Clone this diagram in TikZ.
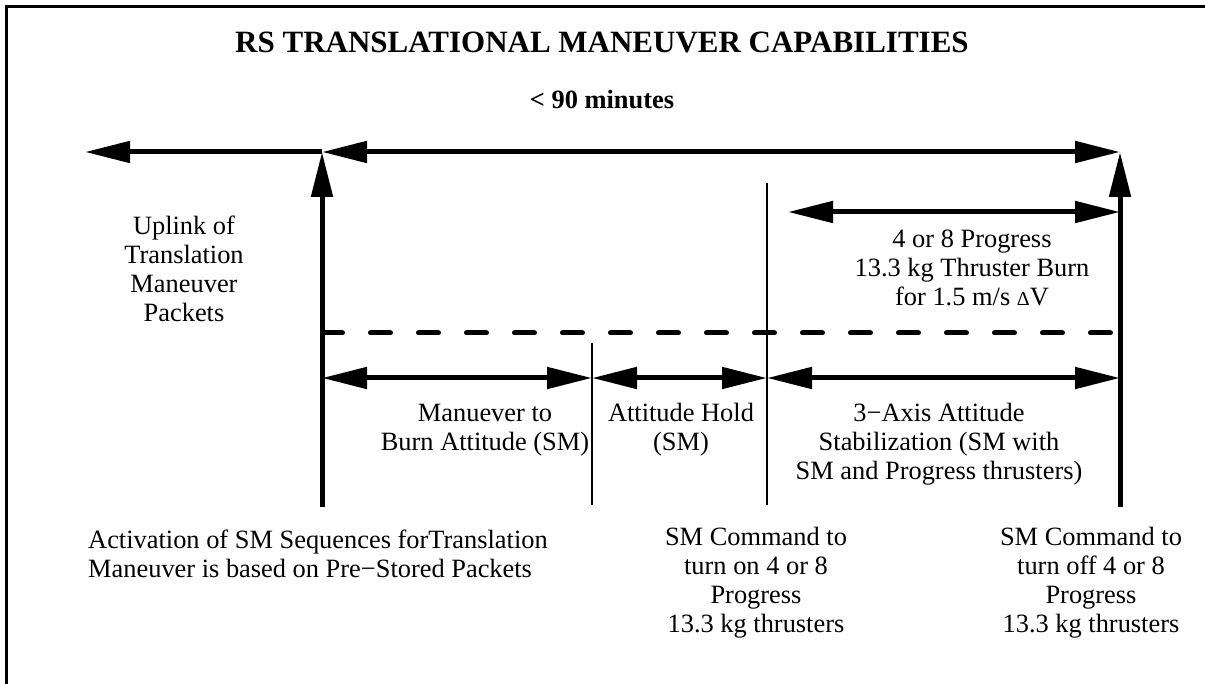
\documentclass[tikz,border=0pt]{standalone}
\usepackage{fontspec}
\setmainfont{Liberation Serif}
\usetikzlibrary{arrows.meta}
\tikzset{
  frameline/.style={line width=3pt},
  bar/.style={line width=5pt, >={Triangle[length=45pt,width=21pt]}},
  thinline/.style={line width=2pt},
  dashline/.style={line width=5pt, line cap=round, dash pattern=on 20pt off 28pt},
  lbl/.style={align=center, inner sep=0pt, font=\fontsize{26.4}{29}\selectfont},
}
\begin{document}
\begin{tikzpicture}[x=1pt,y=-1pt]
\useasboundingbox (0,0) rectangle (1205,684);
% frame
\coordinate (fb) at (6.5,684);
\coordinate (fc) at (6.5,6.5);
\coordinate (fr) at (1205,6.5);
\draw[frameline] (fb) -- (fc) -- (fr);
% titles
\node[inner sep=0pt, font=\fontsize{31}{35}\bfseries] (title) at (602,42) {RS TRANSLATIONAL MANEUVER CAPABILITIES};
\node[inner sep=0pt, font=\fontsize{26.4}{29}\bfseries] (dur) at (602,100) {< 90 minutes};
% coordinates
\coordinate (L) at (85,152);
\coordinate (S) at (322,152);
\coordinate (E) at (1120,152);
\coordinate (Sb) at (322,507);
\coordinate (Eb) at (1120,507);
\coordinate (m1t) at (592,343);
\coordinate (m1b) at (592,505);
\coordinate (m2t) at (767,183);
\coordinate (m2b) at (767,505);
\coordinate (bs) at (788,212);
\coordinate (be) at (1120,212);
\coordinate (ds) at (322.5,333);
\coordinate (de) at (1115,333);
\coordinate (a0) at (322,378);
\coordinate (a1) at (592,378);
\coordinate (a2) at (767,378);
\coordinate (a3) at (1120,378);
% lines
\draw[dashline] (ds) -- (de);
\draw[thinline] (m1t) -- (m1b);
\draw[thinline] (m2t) -- (m2b);
\draw[bar,->] (S) -- (L);
\draw[bar,<->] (S) -- (E);
\draw[bar,->] (Sb) -- (S);
\draw[bar,->] (Eb) -- (E);
\draw[bar,<->] (bs) -- (be);
\draw[bar,<->] (a0) -- (a1);
\draw[bar,<->] (a1) -- (a2);
\draw[bar,<->] (a2) -- (a3);
% labels
\node[lbl] (uplink) at (184,269) {Uplink of\\Translation\\Maneuver\\Packets};
\node[lbl] (burn) at (972,268) {4 or 8 Progress\\13.3 kg Thruster Burn\\for 1.5 m/s {\fontsize{20}{20}\selectfont Δ}V};
\node[lbl] (man) at (485,430) {Manuever to\\Burn Attitude (SM)};
\node[lbl] (hold) at (681,430) {Attitude Hold\\(SM)};
\node[lbl] (stab) at (939,444) {3−Axis Attitude\\Stabilization (SM with\\SM and Progress thrusters)};
\node[lbl, align=left, anchor=west] (act) at (88,554) {Activation of SM Sequences forTranslation\\Maneuver is based on Pre−Stored Packets};
\node[lbl] (cmdon) at (756,583) {SM Command to\\turn on 4 or 8\\Progress\\13.3 kg thrusters};
\node[lbl] (cmdoff) at (1091,583) {SM Command to\\turn off 4 or 8\\Progress\\13.3 kg thrusters};
\end{tikzpicture}
\end{document}
